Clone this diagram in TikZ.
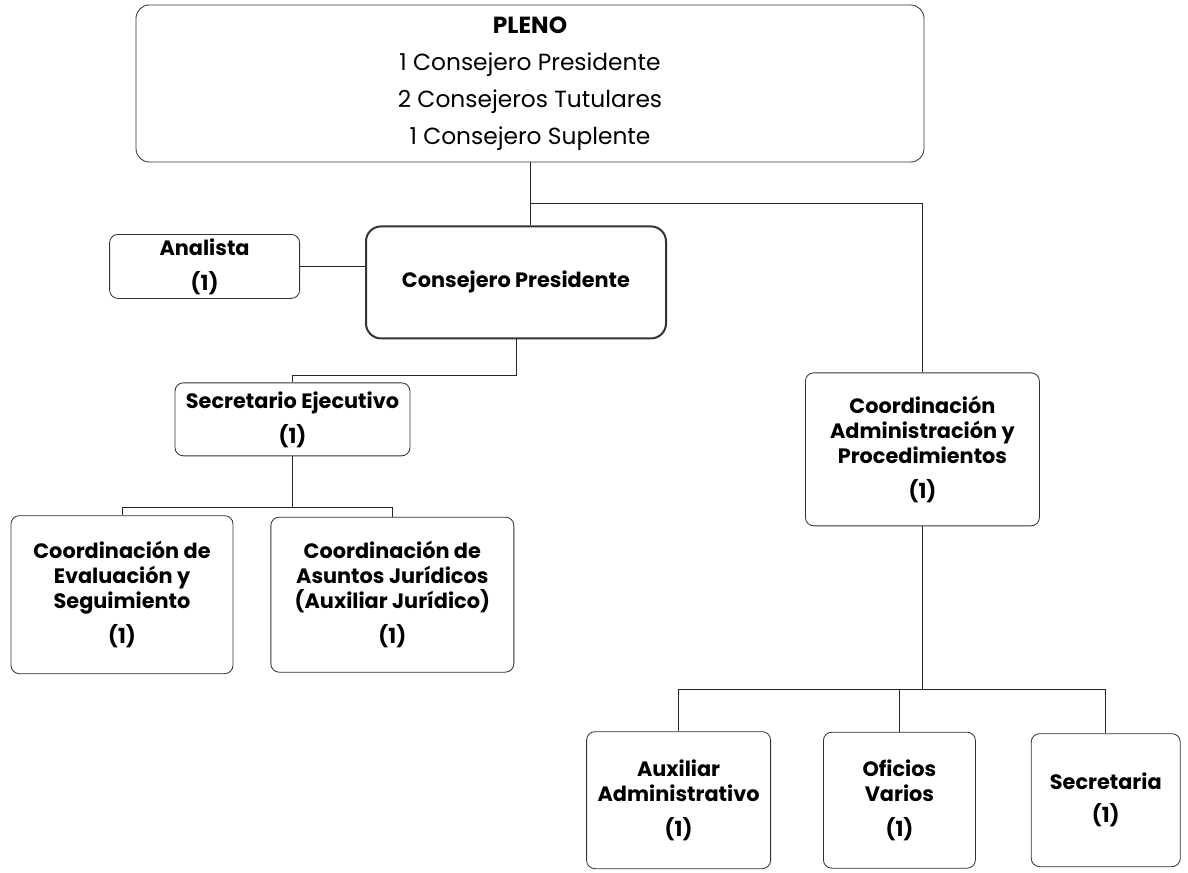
\documentclass[tikz,border=0pt]{standalone}
\usepackage{fontspec}
\setmainfont{Poppins}
\usetikzlibrary{positioning}

\begin{document}
\begin{tikzpicture}[x=0.6pt, y=-0.6pt,
    unit/.style={draw=black!80, line width=0.5pt, rounded corners=5pt, fill=white,
        align=center, inner sep=0pt, font=\bfseries\fontsize{12.5}{15}\selectfont},
    chief/.style={unit, line width=1.2pt, rounded corners=9pt},
    link/.style={draw=black!85, line width=0.6pt}]
    \useasboundingbox (0,0) rectangle (1188,872);

    \node[unit, minimum width=472.8pt, minimum height=94.2pt, rounded corners=8pt,
        font=\fontsize{14}{22.2}\selectfont] (pleno) at (530,83.5)
        {\textbf{PLENO}\\1 Consejero Presidente\\2 Consejeros Tutulares\\1 Consejero Suplente};
    \node[chief, below=37.8pt of pleno, xshift=-8.4pt, minimum width=180pt, minimum height=67.2pt] (cp)
        {Consejero Presidente};
    \node[unit, left=39pt of cp, yshift=9.6pt, minimum width=114pt, minimum height=38.4pt] (analista)
        {Analista\\[6pt](1)};
    \node[unit, below=25.8pt of cp, xshift=-134.1pt, minimum width=141pt, minimum height=43.8pt] (sec)
        {Secretario Ejecutivo\\[6pt](1)};
    \node[unit, below=35.4pt of sec, xshift=-102.3pt, minimum width=133.2pt, minimum height=94.8pt] (eval)
        {Coordinación de\\Evaluación y\\Seguimiento\\[6pt](1)};
    \node[unit, right=22.2pt of eval, minimum width=145.8pt, minimum height=93pt] (jur)
        {Coordinación de\\Asuntos Jurídicos\\(Auxiliar Jurídico)\\[6pt](1)};
    \node[unit, below right=19.8pt and 82.8pt of cp, minimum width=140.4pt, minimum height=91.8pt] (admin)
        {Coordinación\\Administración y\\Procedimientos\\[6pt](1)};
    \node[unit, below left=123pt and 20.4pt of admin, minimum width=110.4pt, minimum height=82.2pt] (aux)
        {Auxiliar\\Administrativo\\[6pt](1)};
    \node[unit, right=31.2pt of aux, minimum width=91.2pt, minimum height=81.6pt] (ofi)
        {Oficios\\Varios\\[6pt](1)};
    \node[unit, right=33pt of ofi, minimum width=89.4pt, minimum height=79.8pt] (secre)
        {Secretaria\\[4.8pt](1)};

    \draw[link] (pleno.south) -- (pleno.south |- cp.north);
    \draw[link] (pleno.south) ++(0,41) -| (admin.north);
    \draw[link] (analista.east) -- (analista.east -| cp.west);
    \draw[link] (cp.south) -- ++(0,36) -| (sec.north);
    \draw[link] (sec.south) -- ++(0,51) coordinate (sbus);
    \draw[link] (eval.north) |- (sbus) -| (jur.north);
    \draw[link] (admin.south) -- ++(0,163) coordinate (abus);
    \draw[link] (aux.north) |- (abus) -| (secre.north);
    \draw[link] (abus -| ofi.north) -- (ofi.north);
\end{tikzpicture}
\end{document}
